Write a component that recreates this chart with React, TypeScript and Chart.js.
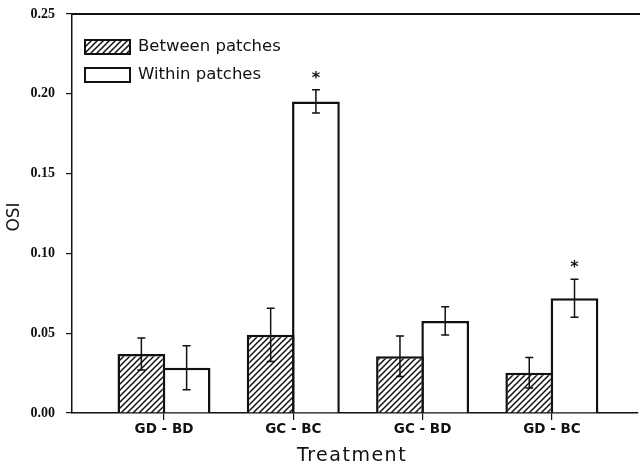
import React, { useEffect, useRef } from "react";
import { Chart, registerables } from "chart.js";

Chart.register(...registerables);

const categories = ["GD - BD", "GC - BC", "GC - BD", "GD - BC"];
const categoryPositions = [1, 2, 3, 4];
const betweenValues = [0.037, 0.049, 0.0356, 0.0252];
const betweenErrors = [0.01, 0.0167, 0.0127, 0.0095];
const withinValues = [0.0283, 0.1952, 0.0577, 0.0719];
const withinErrors = [0.0138, 0.0073, 0.0088, 0.0119];
const withinSignificant = [false, true, false, true];
const yTicks = [0, 0.05, 0.1, 0.15, 0.2, 0.25];
const legendLabels = ["Between patches", "Within patches"];
const xTitle = "Treatment";
const yTitle = "OSI";

const INK = "#111";

function makeHatch(): CanvasPattern | string {
  const c = document.createElement("canvas");
  const s = 6;
  c.width = s;
  c.height = s;
  const g = c.getContext("2d");
  if (!g) return "#fff";
  g.fillStyle = "#fff";
  g.fillRect(0, 0, s, s);
  g.strokeStyle = INK;
  g.lineWidth = 1.5;
  g.beginPath();
  g.moveTo(-1, s + 1);
  g.lineTo(s + 1, -1);
  g.moveTo(-1, 1);
  g.lineTo(1, -1);
  g.moveTo(s - 1, s + 1);
  g.lineTo(s + 1, s - 1);
  g.stroke();
  const p = g.createPattern(c, "repeat");
  return p || "#fff";
}

export default function App() {
  const ref = useRef<HTMLCanvasElement>(null);

  useEffect(() => {
    document.body.style.margin = "0";
    const canvas = ref.current;
    if (!canvas) return;
    const hatch = makeHatch();
    const errors = [betweenErrors, withinErrors];

    const extras = {
      id: "extras",
      afterDatasetsDraw(chart: any) {
        const ctx = chart.ctx;
        const ys = chart.scales.y;
        const area = chart.chartArea;
        ctx.save();
        // top frame line
        ctx.strokeStyle = INK;
        ctx.lineWidth = 2;
        ctx.beginPath();
        ctx.moveTo(area.left, area.top);
        ctx.lineTo(chart.width, area.top);
        ctx.stroke();
        // error bars
        ctx.lineWidth = 1.5;
        chart.data.datasets.forEach((ds: any, di: number) => {
          const meta = chart.getDatasetMeta(di);
          meta.data.forEach((el: any, i: number) => {
            const v = ds.data[i].y;
            const e = errors[di][i];
            const yt = ys.getPixelForValue(v + e);
            const yb = ys.getPixelForValue(v - e);
            const x = el.x;
            ctx.beginPath();
            ctx.moveTo(x, yt);
            ctx.lineTo(x, yb);
            ctx.moveTo(x - 4, yt);
            ctx.lineTo(x + 4, yt);
            ctx.moveTo(x - 4, yb);
            ctx.lineTo(x + 4, yb);
            ctx.stroke();
            if (di === 1 && withinSignificant[i]) {
              ctx.fillStyle = INK;
              ctx.font = "bold 16px 'DejaVu Sans', sans-serif";
              ctx.textAlign = "center";
              ctx.textBaseline = "middle";
              ctx.fillText("*", x, yt - 11);
            }
          });
        });
        // legend
        const lx = 85;
        const rows = [40, 68];
        const fills = [hatch, "#fff"];
        ctx.font = "16.5px 'DejaVu Sans', sans-serif";
        ctx.textAlign = "left";
        ctx.textBaseline = "middle";
        rows.forEach((ry, k) => {
          ctx.fillStyle = fills[k] as any;
          ctx.fillRect(lx, ry, 45, 14);
          ctx.lineWidth = 2;
          ctx.strokeStyle = INK;
          ctx.strokeRect(lx, ry, 45, 14);
          ctx.fillStyle = INK;
          ctx.fillText(legendLabels[k], 138, ry + 7);
        });
        // axis titles
        ctx.fillStyle = INK;
        ctx.textAlign = "center";
        ctx.textBaseline = "middle";
        ctx.font = "19px 'DejaVu Sans', sans-serif";
        (ctx as any).letterSpacing = "1.5px";
        ctx.fillText(xTitle, 352, 456);
        (ctx as any).letterSpacing = "0px";
        ctx.save();
        ctx.translate(15, 217);
        ctx.rotate(-Math.PI / 2);
        ctx.font = "17px 'DejaVu Sans', sans-serif";
        ctx.fillText(yTitle, 0, 0);
        ctx.restore();
        ctx.restore();
      },
    };

    const chart = new Chart(canvas, {
      type: "bar",
      data: {
        datasets: [
          {
            label: legendLabels[0],
            data: categoryPositions.map((x, i) => ({ x, y: betweenValues[i] })),
            backgroundColor: hatch as any,
            borderColor: INK,
            borderWidth: 2.5,
            categoryPercentage: 0.7,
            barPercentage: 1.055,
          },
          {
            label: legendLabels[1],
            data: categoryPositions.map((x, i) => ({ x, y: withinValues[i] })),
            backgroundColor: "#fff",
            borderColor: INK,
            borderWidth: 2.5,
            categoryPercentage: 0.7,
            barPercentage: 1.055,
          },
        ],
      },
      options: {
        animation: false,
        responsive: false,
        maintainAspectRatio: false,
        layout: { padding: { top: 14, right: 2, left: 0, bottom: 0 } },
        plugins: {
          legend: { display: false },
          tooltip: { enabled: false },
        },
        scales: {
          x: {
            type: "linear",
            min: 0.2885,
            max: 4.666,
            offset: false,
            afterBuildTicks(scale: any) {
              scale.ticks = categoryPositions.map((v) => ({ value: v }));
            },
            afterFit(scale: any) {
              scale.height = 54;
              scale.paddingLeft = 0;
              scale.paddingRight = 0;
            },
            grid: {
              offset: false,
              drawOnChartArea: false,
              drawTicks: true,
              tickLength: 7,
              color: INK,
              lineWidth: 1.2,
            },
            border: { display: true, color: INK, width: 1.5 },
            ticks: {
              color: INK,
              padding: 1,
              maxRotation: 0,
              autoSkip: false,
              font: { family: "'DejaVu Sans', sans-serif", size: 13.5, weight: "bold" },
              callback: (v: any) => {
                const idx = categoryPositions.indexOf(Number(v));
                return idx >= 0 ? categories[idx] : "";
              },
            },
            title: { display: false },
          },
          y: {
            min: 0,
            max: 0.25,
            afterBuildTicks(scale: any) {
              scale.ticks = yTicks.map((v) => ({ value: v }));
            },
            afterFit(scale: any) {
              scale.width = 72;
              scale.paddingTop = 0;
              scale.paddingBottom = 0;
            },
            grid: {
              drawOnChartArea: false,
              drawTicks: true,
              tickLength: 6,
              color: INK,
              lineWidth: 1.2,
            },
            border: { display: true, color: INK, width: 1.5 },
            ticks: {
              color: INK,
              padding: 11,
              font: { family: "'Liberation Serif', 'Times New Roman', serif", size: 14, weight: "bold" },
              callback: (v: any) => Number(v).toFixed(2),
            },
            title: { display: false },
          },
        },
      },
      plugins: [extras],
    } as any);

    return () => chart.destroy();
  }, []);

  return (
    <div style={{ width: 640, height: 467, background: "#fff" }}>
      <canvas ref={ref} width={640} height={467} style={{ display: "block" }} />
    </div>
  );
}
